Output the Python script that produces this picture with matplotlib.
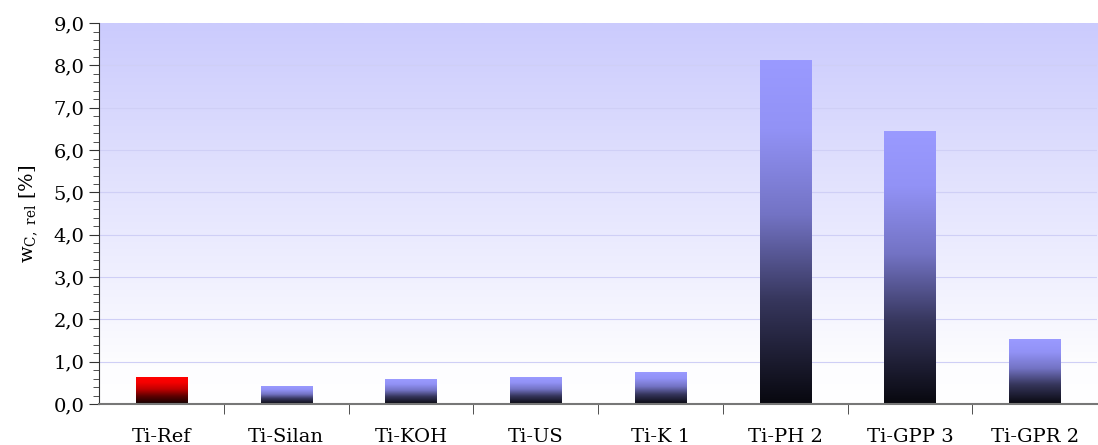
import numpy as np
import matplotlib
matplotlib.use('Agg')
import matplotlib.pyplot as plt
from matplotlib.colors import LinearSegmentedColormap
from matplotlib.ticker import MultipleLocator, FuncFormatter

# data
samples = ['Ti-Ref', 'Ti-Silan', 'Ti-KOH', 'Ti-US', 'Ti-K 1', 'Ti-PH 2', 'Ti-GPP 3', 'Ti-GPR 2']
w_c_rel = [0.63, 0.42, 0.58, 0.63, 0.75, 8.12, 6.45, 1.53]
is_ref = [True, False, False, False, False, False, False, False]

plt.rcParams['font.family'] = 'DejaVu Serif'
plt.rcParams['mathtext.fontset'] = 'dejavuserif'

fig = plt.figure(figsize=(10.98, 4.45), dpi=100)
ax = fig.add_axes([0.0902, 0.092, 0.909, 0.856])

ymax = 9.0
n = len(samples)

# background gradient (light lavender at top fading to white)
bg_cmap = LinearSegmentedColormap.from_list('bg', [(0, '#ffffff'), (0.1, '#fdfdff'), (1, '#cbcbfd')])
grad = np.linspace(0, 1, 256).reshape(-1, 1)
ax.imshow(grad, cmap=bg_cmap, aspect='auto', origin='lower',
          extent=(-0.5, n - 0.5, 0, ymax), zorder=0)

# grid lines
for y in range(1, 9):
    ax.axhline(y, color='#cfcff6', lw=0.8, zorder=1)

blue_cmap = LinearSegmentedColormap.from_list(
    'blue', [(0, '#08080f'), (0.3, '#36365c'), (0.55, '#7373c4'), (0.8, '#9292f6'), (1, '#9a9aff')])
red_cmap = LinearSegmentedColormap.from_list(
    'red', [(0, '#100000'), (0.3, '#600000'), (0.55, '#c00000'), (0.8, '#f60000'), (1, '#ff0000')])

width = 0.41
for i, (v, ref) in enumerate(zip(w_c_rel, is_ref)):
    cm = red_cmap if ref else blue_cmap
    ax.imshow(grad, cmap=cm, aspect='auto', origin='lower',
              extent=(i - width / 2, i + width / 2, 0, v), zorder=2)

ax.set_xlim(-0.5, n - 0.5)
ax.set_ylim(0, ymax)

# axes styling
for s in ['top', 'right']:
    ax.spines[s].set_visible(False)
ax.spines['left'].set_color('#333333')
ax.spines['bottom'].set_color('#777777')
ax.spines['bottom'].set_linewidth(1.5)

ax.yaxis.set_major_locator(MultipleLocator(1.0))
ax.yaxis.set_minor_locator(MultipleLocator(0.2))
ax.yaxis.set_major_formatter(FuncFormatter(lambda v, p: ('%.1f' % v).replace('.', ',')))
ax.tick_params(axis='y', which='major', length=7, color='#333333', labelsize=14)
ax.tick_params(axis='y', which='minor', length=4, color='#333333')

ax.set_xticks(np.arange(n))
ax.set_xticklabels(samples, fontsize=14)
ax.tick_params(axis='x', which='major', length=0, pad=17)
ax.set_xticks(np.arange(n - 1) + 0.5, minor=True)
ax.tick_params(axis='x', which='minor', length=7, color='#333333')

ax.set_ylabel(r'w$_{\mathrm{C,\ rel}}$ [%]', fontsize=14, labelpad=10)

plt.savefig('out.png', dpi=100)
